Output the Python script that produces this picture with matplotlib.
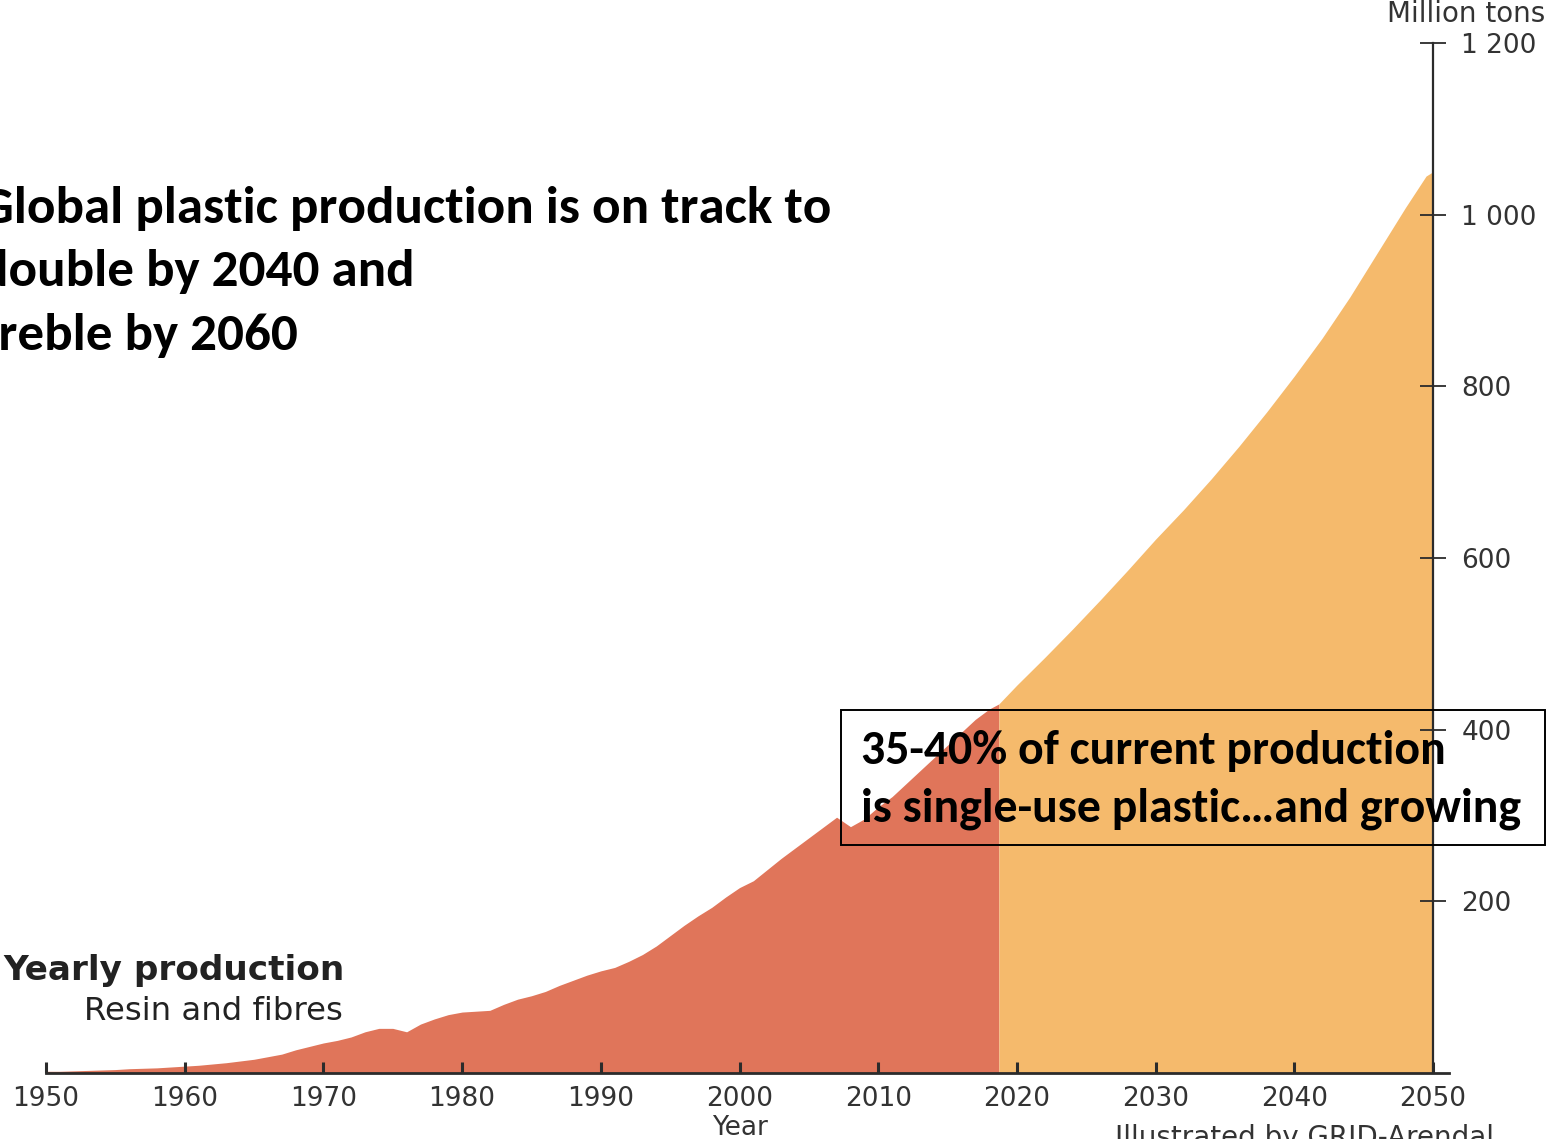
"""
Global plastic production, yearly (resin and fibres), with projection to 2050.
"""
import matplotlib

matplotlib.use("Agg")
import matplotlib.pyplot as plt
from matplotlib.patches import Rectangle

W, H = 1548, 1139

# historical yearly production, million tons
hist_years = [1950, 1951, 1952, 1953, 1954, 1955, 1956, 1957, 1958, 1959,
              1960, 1961, 1962, 1963, 1964, 1965, 1966, 1967, 1968, 1969,
              1970, 1971, 1972, 1973, 1974, 1975, 1976, 1977, 1978, 1979,
              1980, 1981, 1982, 1983, 1984, 1985, 1986, 1987, 1988, 1989,
              1990, 1991, 1992, 1993, 1994, 1995, 1996, 1997, 1998, 1999,
              2000, 2001, 2002, 2003, 2004, 2005, 2006, 2007, 2008, 2009,
              2010, 2011, 2012, 2013, 2014, 2015, 2016, 2017, 2018, 2018.7]
hist_prod = [2, 2, 2.5, 3, 3.5, 4, 5, 5.5, 6, 7,
             8, 9, 10.5, 12, 14, 16, 19, 22, 27, 31,
             35, 38, 42, 48, 52, 52, 48, 57, 63, 68,
             71, 72, 73, 80, 86, 90, 95, 102, 108, 114,
             119, 123, 130, 138, 148, 160, 172, 183, 193, 205,
             216, 224, 237, 250, 262, 274, 286, 298, 287, 296,
             310, 322, 337, 352, 367, 382, 397, 412, 424, 430]

# projection
proj_years = [2018.7, 2020, 2022, 2024, 2026, 2028, 2030, 2032, 2034,
              2036, 2038, 2040, 2042, 2044, 2046, 2048, 2049.5, 2050]
proj_prod = [430, 452, 484, 517, 551, 586, 622, 656, 692,
             730, 770, 812, 856, 904, 956, 1008, 1045, 1050]

x_ticks = list(range(1950, 2051, 10))
y_ticks = [200, 400, 600, 800, 1000, 1200]
y_labels = ["200", "400", "600", "800", "1 000", "1 200"]

title_lines = ["Global plastic production is on track to",
               "double by 2040 and",
               "treble by 2060"]
box_lines = ["35-40% of current production",
             "is single-use plastic\u2026and growing"]

RED = "#E0755A"
ORANGE = "#F5BA6C"
INK = "#2b2b2b"
LABEL = "#333333"
CALIBRI = ["Carlito", "Lato", "DejaVu Sans"]


def px(x, y):
    return x / W, 1 - y / H


def fit_size(fig, s, target_px, base=30, **kw):
    # font size that makes `s` about target_px wide
    t = fig.text(0, 0, s, fontsize=base, **kw)
    w = t.get_window_extent(fig.canvas.get_renderer()).width
    t.remove()
    return base * target_px / w


fig = plt.figure(figsize=(W / 100, H / 100), dpi=100)
left, right, top, bottom = 46, 1449, 43, 1073
ax = fig.add_axes([left / W, 1 - bottom / H, (right - left) / W, (bottom - top) / H])

ax.fill_between(hist_years, hist_prod, color=RED, linewidth=0, zorder=1)
ax.fill_between(proj_years, proj_prod, color=ORANGE, linewidth=0, zorder=1)

ax.set_xlim(1950, 1950 + (right - left) / 13.87)
ax.set_ylim(0, 1200)

for s in ("top", "left"):
    ax.spines[s].set_visible(False)
ax.spines["bottom"].set_color(INK)
ax.spines["bottom"].set_linewidth(2)
ax.spines["right"].set_position(("data", 2050))
ax.spines["right"].set_color(INK)
ax.spines["right"].set_linewidth(1.6)
ax.spines["right"].set_zorder(3)

ax.set_xticks(x_ticks)
ax.set_xticklabels([str(v) for v in x_ticks])
ax.tick_params(axis="x", direction="in", length=8, width=2.2, color=INK,
               labelsize=19, labelcolor=LABEL, pad=9)

ax.yaxis.tick_right()
ax.set_yticks(y_ticks)
ax.set_yticklabels(y_labels)
ax.tick_params(axis="y", direction="inout", length=19, width=1.3, color=INK,
               labelsize=19, labelcolor=LABEL, pad=11)

fig.text(*px(1545, 14), "Million tons", ha="right", va="center",
         fontsize=20, color=LABEL)
fig.text(*px(740, 1128), "Year", ha="center", va="center",
         fontsize=19, color=LABEL)
fig.text(*px(1115, 1124), "Illustrated by GRID-Arendal", ha="left", va="top",
         fontsize=20, color=LABEL)

fs = fit_size(fig, "Yearly production", 340, family="DejaVu Sans", fontweight="bold")
fig.text(*px(3, 980), "Yearly production", ha="left", va="baseline",
         fontsize=fs, fontweight="bold", color="#222222")
fs = fit_size(fig, "Resin and fibres", 259, family="DejaVu Sans")
fig.text(*px(343, 1020), "Resin and fibres", ha="right", va="baseline",
         fontsize=fs, color="#222222")

# headline, partly cut by the left edge as in the original slide
fs = fit_size(fig, title_lines[0], 850, family=CALIBRI, fontweight="bold")
for line, base in zip(title_lines, [223, 286, 350]):
    fig.text(*px(-20, base), line, ha="left", va="baseline", fontsize=fs,
             fontweight="bold", family=CALIBRI, color="black")

box = Rectangle(px(841, 845), (1545 - 841) / W, (845 - 710) / H,
                transform=fig.transFigure, fill=False, edgecolor="black",
                linewidth=1.4, zorder=5)
fig.add_artist(box)
fs = fit_size(fig, box_lines[1], 659, family=CALIBRI, fontweight="bold")
for line, base in zip(box_lines, [764, 822]):
    fig.text(*px(861, base), line, ha="left", va="baseline", fontsize=fs,
             fontweight="bold", family=CALIBRI, color="black", zorder=6)

fig.savefig("out.png", dpi=100)
